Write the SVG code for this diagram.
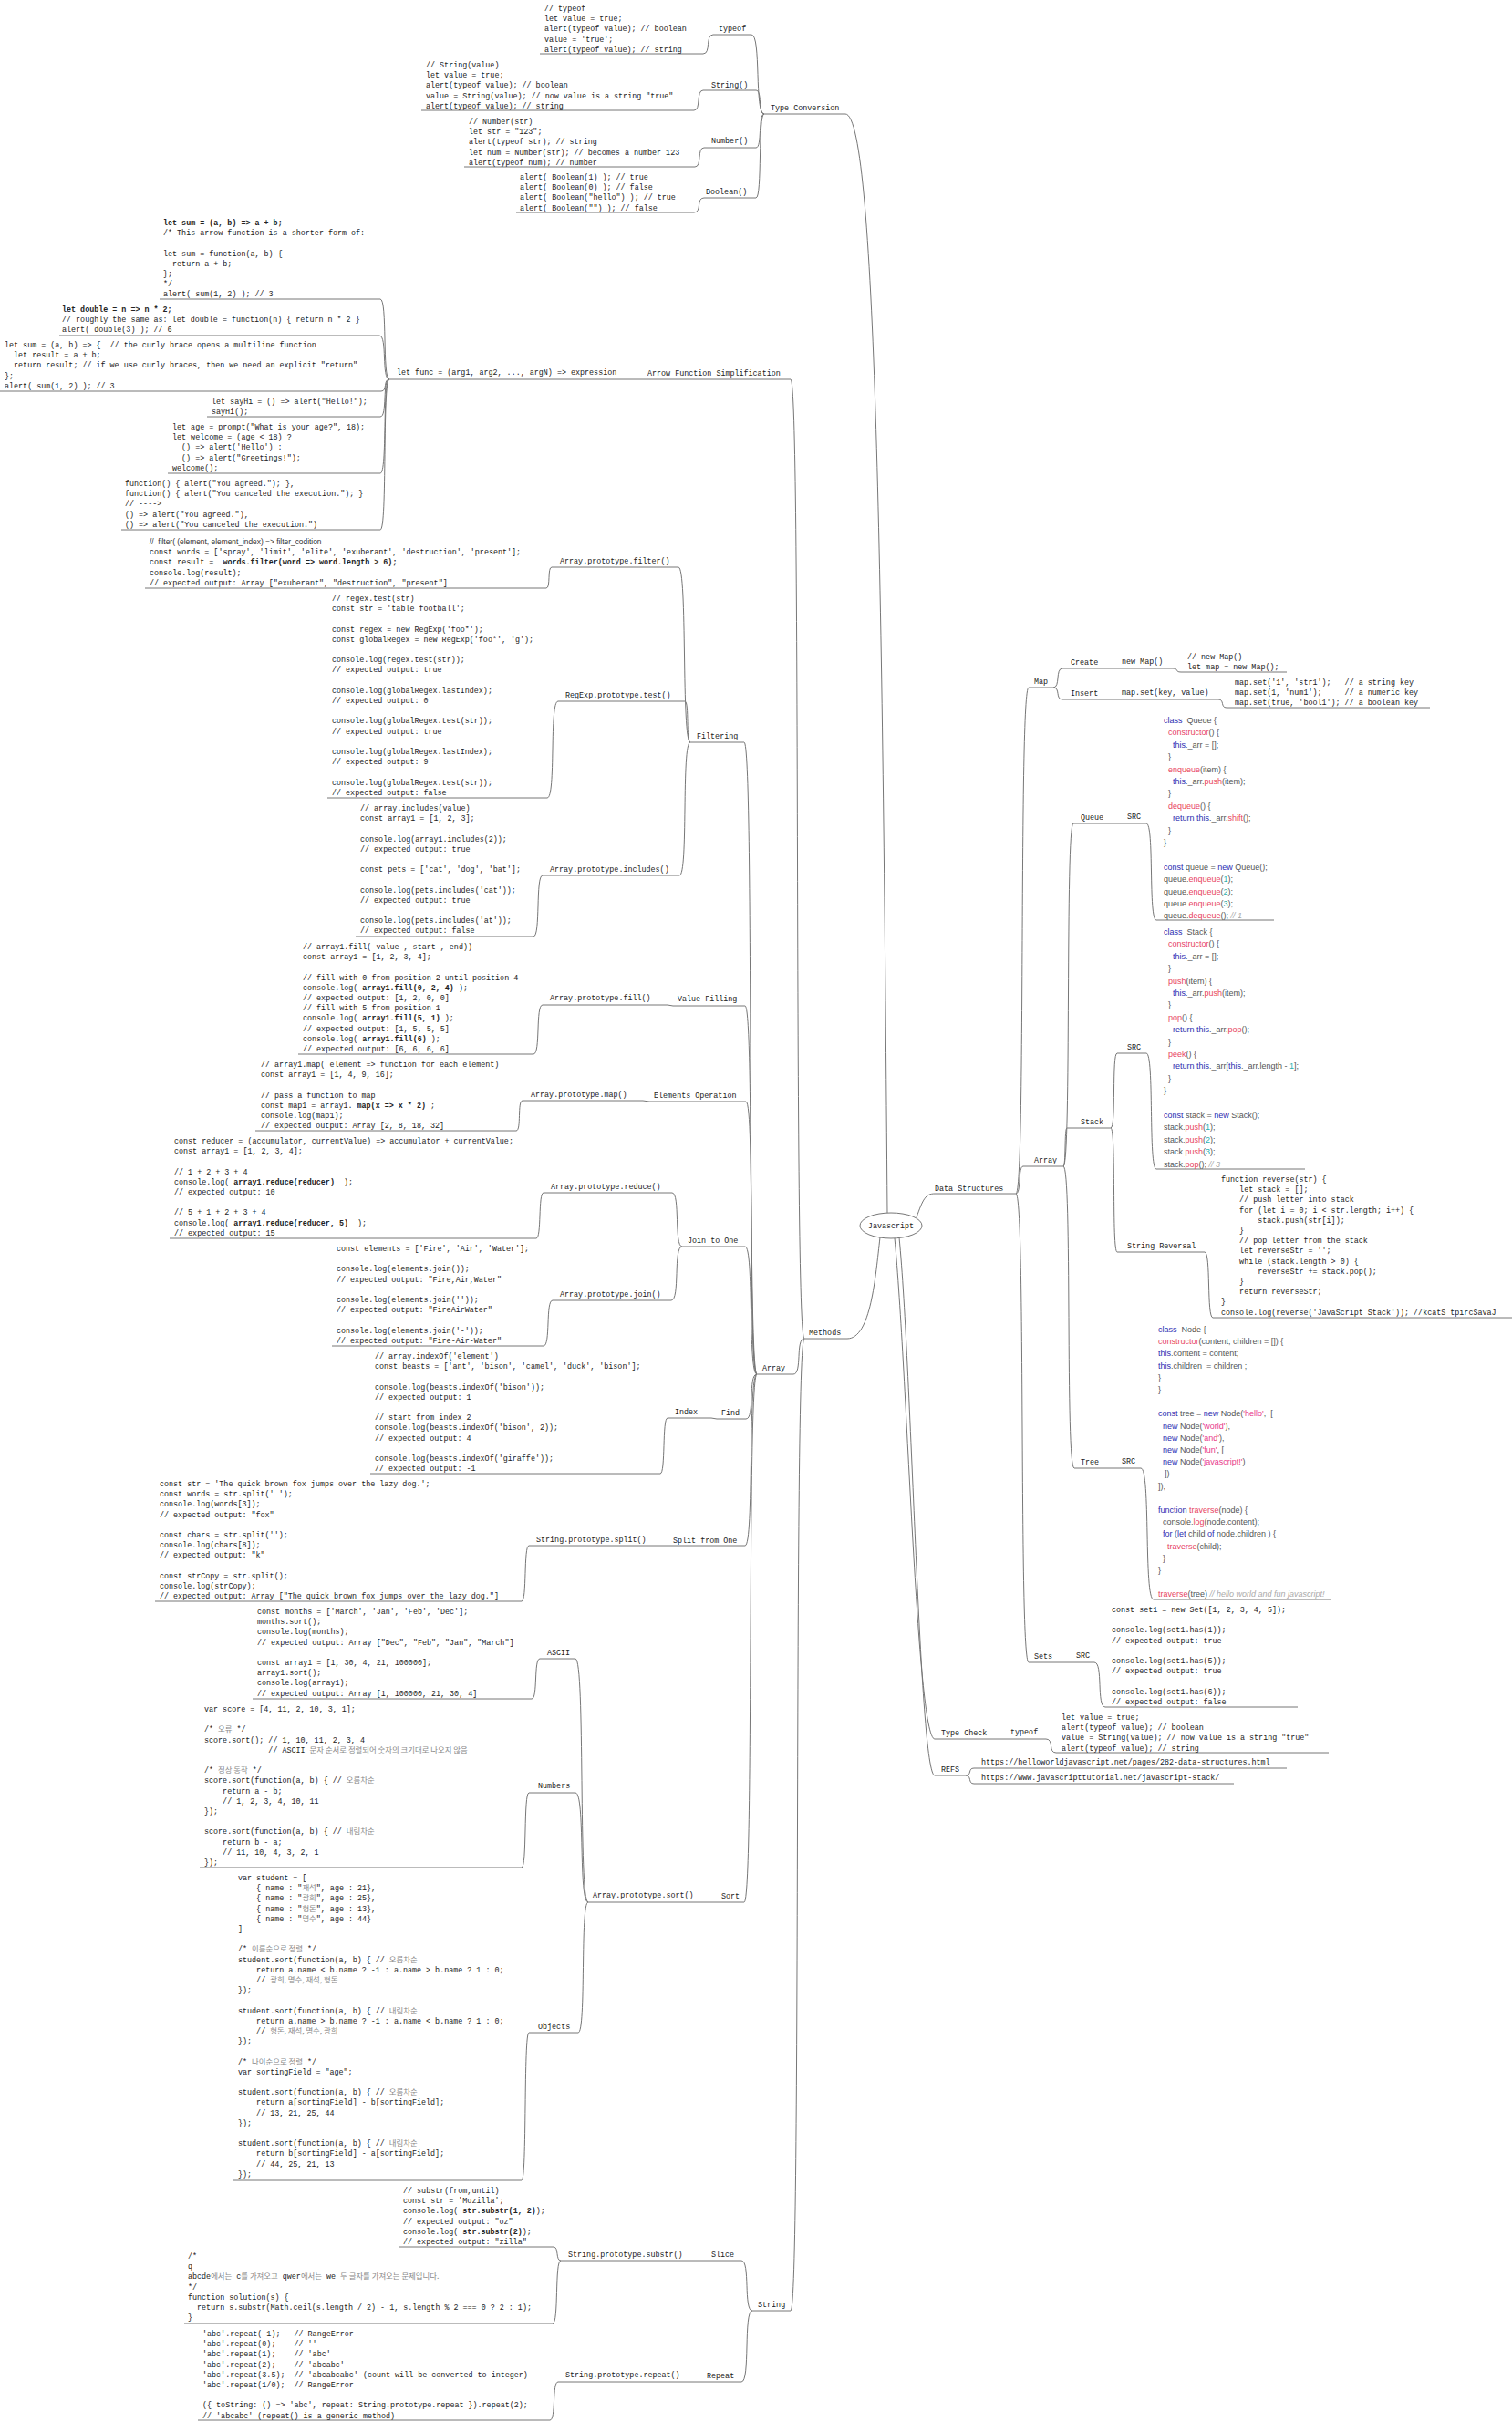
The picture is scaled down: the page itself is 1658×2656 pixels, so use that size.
<svg xmlns="http://www.w3.org/2000/svg" width="1658" height="2656" viewBox="0 0 1658 2656" xml:space="preserve">
<style>
text{white-space:pre}
.c{font-family:"Liberation Mono","DejaVu Sans Mono",monospace;font-size:8.4px;fill:#222}
.s{font-family:"Liberation Sans",Arial,sans-serif;font-size:9px;fill:#555}
.k{font-family:"Noto Sans CJK KR",sans-serif;fill:#888;font-size:8.4px}
.b{font-weight:bold}
.u,.e{fill:none;stroke:#777;stroke-width:1}
.bl{fill:#2d2db0}.rd{fill:#e8455f}.tl{fill:#2ab0b0}.pk{fill:#e83a8a}.cm{fill:#aaa;font-style:italic}
</style>
<rect width="1658" height="2656" fill="#fff"/>
<g id="connectors">
<path class="e" d="M771,59 C780,59 773,38 782,38 M761,121 C769,121 763,99 771,99 M762,183 C770,183 764,162 772,162 M761,233 C770,233 763,217 772,217 M824,38 C835,38 827,125 838,125 M829,99 C836,99 831,125 838,125 M829,162 C836,162 831,125 838,125 M829,217 C836,217 831,125 838,125 M927,125 C962,125 968,700 973,1330"/>
<path class="e" d="M417,328 C425,328 419,416 427,416 M416,368 C425,368 418,416 427,416 M418,429 C425,429 420,416 427,416 M417,457 C425,457 419,416 427,416 M417,519 C425,519 419,416 427,416 M417,581 C425,581 419,416 427,416 M867,416 C879,416 870,1468 882,1468 M929,1468 C955,1468 960,1400 965,1357 M870,1507 C880,1507 872,1468 882,1468 M867,2534 C879,2534 870,1468 882,1468"/>
<path class="e" d="M816,814 C827,814 819,1507 830,1507 M817,1103 C827,1103 820,1507 830,1507 M818,1208 C828,1208 820,1507 830,1507 M817,1367 C827,1367 820,1507 830,1507 M818,1556 C828,1556 820,1507 830,1507 M817,1695 C827,1695 820,1507 830,1507 M816,2086 C827,2086 819,1507 830,1507"/>
<path class="e" d="M744,622 C754,622 747,814 757,814 M751,769 C756,769 752,814 757,814 M745,960 C755,960 747,814 757,814 M599,645 C604,645 600,622 605,622 M600,875 C610,875 602,769 612,769 M585,1027 C593,1027 587,960 595,960 M732,1102 L738,1103 M585,1156 C593,1156 587,1102 595,1102 M705,1207 L712,1208 M566,1240 C572,1240 567,1207 573,1207 M737,1308 C746,1308 739,1367 748,1367 M736,1426 C746,1426 738,1367 748,1367 M588,1358 C594,1358 590,1308 596,1308 M596,1476 C604,1476 598,1426 606,1426 M780,1555 L786,1556 M724,1616 C730,1616 726,1555 732,1555 M726,1695 L733,1695 M572,1756 C578,1756 574,1695 580,1695"/>
<path class="e" d="M770,2086 L776,2086 M631,1819 C642,1819 634,2086 645,2086 M631,1966 C642,1966 634,2086 645,2086 M634,2229 C643,2229 636,2086 645,2086 M583,1863 C590,1863 585,1819 592,1819 M572,2048 C578,2048 574,1966 580,1966 M572,2391 C578,2391 574,2229 580,2229 M770,2479 L775,2479 M764,2612 L768,2612 M813,2479 C823,2479 815,2534 825,2534 M813,2612 C823,2612 815,2534 825,2534 M607,2464 C613,2464 609,2479 615,2479 M606,2548 C613,2548 608,2479 615,2479 M603,2654 C610,2654 605,2612 612,2612"/>
<path class="e" d="M1005,1335 C1012,1315 1015,1309 1025,1309 M981,1358 C995,1500 1005,1907 1025,1907 M986,1357 C1000,1500 1008,1947 1025,1947 M1114,1309 C1125,1309 1117,754 1128,754 M1114,1309 C1120,1309 1116,1279 1122,1279 M1114,1309 C1125,1309 1117,1823 1128,1823 M1155,754 C1163,754 1157,733 1165,733 M1155,754 C1163,754 1157,767 1165,767 M1286,733 C1293,733 1288,737 1295,737 M1336,767 C1343,767 1338,776 1345,776 M1166,1279 C1175,1279 1168,903 1177,903 M1166,1279 C1169,1279 1167,1237 1170,1237 M1166,1279 C1176,1279 1168,1610 1178,1610 M1257,903 C1266,903 1259,1009 1268,1009 M1218,1237 C1224,1237 1219,1155 1225,1155 M1218,1237 C1224,1237 1219,1373 1225,1373 M1257,1155 C1266,1155 1259,1282 1268,1282 M1321,1373 C1328,1373 1323,1445 1330,1445 M1251,1610 C1262,1610 1254,1754 1265,1754 M1200,1823 C1210,1823 1202,1872 1212,1872 M1147,1907 C1156,1907 1149,1922 1158,1922 M1059,1947 C1066,1947 1061,1939 1068,1939 M1059,1947 C1066,1947 1061,1956 1068,1956"/>
</g>
<g id="javascript"><ellipse cx="977" cy="1344" rx="34" ry="14" fill="#fff" stroke="#777"/><text class="c" x="977" y="1347" text-anchor="middle">Javascript</text></g>
<g id="type-conversion">
<path class="u" d="M592,59H771 M782,38H824 M462,121H761 M771,99H829 M509,183H762 M772,162H829 M566,233H761 M772,217H829 M838,125H927"/>
<text class="c" x="845" y="121">Type Conversion</text>
<text class="c" x="788" y="34">typeof</text><text class="c" x="780" y="96">String()</text><text class="c" x="780" y="157">Number()</text><text class="c" x="774" y="213">Boolean()</text>
<text class="c" y="12"><tspan x="597">// typeof</tspan><tspan x="597" dy="11.2">let value = true;</tspan><tspan x="597" dy="11.2">alert(typeof value); // boolean</tspan><tspan x="597" dy="11.2">value = 'true';</tspan><tspan x="597" dy="11.2">alert(typeof value); // string</tspan></text>
<text class="c" y="74"><tspan x="467">// String(value)</tspan><tspan x="467" dy="11.2">let value = true;</tspan><tspan x="467" dy="11.2">alert(typeof value); // boolean</tspan><tspan x="467" dy="11.2">value = String(value); // now value is a string "true"</tspan><tspan x="467" dy="11.2">alert(typeof value); // string</tspan></text>
<text class="c" y="136"><tspan x="514">// Number(str)</tspan><tspan x="514" dy="11.2">let str = "123";</tspan><tspan x="514" dy="11.2">alert(typeof str); // string</tspan><tspan x="514" dy="11.2">let num = Number(str); // becomes a number 123</tspan><tspan x="514" dy="11.2">alert(typeof num); // number</tspan></text>
<text class="c" y="197"><tspan x="570">alert( Boolean(1) ); // true</tspan><tspan x="570" dy="11.2">alert( Boolean(0) ); // false</tspan><tspan x="570" dy="11.2">alert( Boolean("hello") ); // true</tspan><tspan x="570" dy="11.2">alert( Boolean("") ); // false</tspan></text>
</g>
<g id="arrow-function">
<path class="u" d="M175,328H417 M65,368H416 M0,429H418 M227,457H417 M184,519H417 M133,581H417 M427,416H705 M705,416H867"/>
<text class="c" x="710" y="412">Arrow Function Simplification</text>
<text class="c" x="435" y="411">let func = (arg1, arg2, ..., argN) =&gt; expression</text>
<text class="c" y="247"><tspan x="179" class="b">let sum = (a, b) =&gt; a + b;</tspan><tspan x="179" dy="11.2">/* This arrow function is a shorter form of:</tspan><tspan x="179" dy="22.4">let sum = function(a, b) {</tspan><tspan x="179" dy="11.2">  return a + b;</tspan><tspan x="179" dy="11.2">};</tspan><tspan x="179" dy="11.2">*/</tspan><tspan x="179" dy="11.2">alert( sum(1, 2) ); // 3</tspan></text>
<text class="c" y="342"><tspan x="68" class="b">let double = n =&gt; n * 2;</tspan><tspan x="68" dy="11.2">// roughly the same as: let double = function(n) { return n * 2 }</tspan><tspan x="68" dy="11.2">alert( double(3) ); // 6</tspan></text>
<text class="c" y="381"><tspan x="5">let sum = (a, b) =&gt; {  // the curly brace opens a multiline function</tspan><tspan x="5" dy="11.2">  let result = a + b;</tspan><tspan x="5" dy="11.2">  return result; // if we use curly braces, then we need an explicit "return"</tspan><tspan x="5" dy="11.2">};</tspan><tspan x="5" dy="11.2">alert( sum(1, 2) ); // 3</tspan></text>
<text class="c" y="443"><tspan x="232">let sayHi = () =&gt; alert("Hello!");</tspan><tspan x="232" dy="11.2">sayHi();</tspan></text>
<text class="c" y="471"><tspan x="189">let age = prompt("What is your age?", 18);</tspan><tspan x="189" dy="11.2">let welcome = (age &lt; 18) ?</tspan><tspan x="189" dy="11.2">  () =&gt; alert('Hello') :</tspan><tspan x="189" dy="11.2">  () =&gt; alert("Greetings!");</tspan><tspan x="189" dy="11.2">welcome();</tspan></text>
<text class="c" y="533"><tspan x="137">function() { alert("You agreed."); },</tspan><tspan x="137" dy="11.2">function() { alert("You canceled the execution."); }</tspan><tspan x="137" dy="11.2">// ----&gt;</tspan><tspan x="137" dy="11.2">() =&gt; alert("You agreed."),</tspan><tspan x="137" dy="11.2">() =&gt; alert("You canceled the execution.")</tspan></text>
</g>
<g id="methods">
<path class="u" d="M882,1468H929 M830,1507H870"/>
<text class="c" x="887" y="1464">Methods</text><text class="c" x="836" y="1503">Array</text>
</g>
<g id="filtering">
<path class="u" d="M757,814H816 M605,622H744 M159,645H599 M612,769H751 M359,875H600 M595,960H745 M390,1027H585"/>
<text class="c" x="764" y="810">Filtering</text>
<text class="c" x="614" y="618">Array.prototype.filter()</text><text class="c" x="620" y="765">RegExp.prototype.test()</text><text class="c" x="603" y="956">Array.prototype.includes()</text>
<text class="c" y="597"><tspan x="164" class="s" style="font-size:8.4px;fill:#333">//  filter( (element, element_index) =&gt; filter_codition</tspan><tspan x="164" dy="11.2">const words = ['spray', 'limit', 'elite', 'exuberant', 'destruction', 'present'];</tspan><tspan x="164" dy="11.2">const result =  <tspan class="b">words.filter(word =&gt; word.length &gt; 6);</tspan></tspan><tspan x="164" dy="11.2">console.log(result);</tspan><tspan x="164" dy="11.2">// expected output: Array ["exuberant", "destruction", "present"]</tspan></text>
<text class="c" y="659"><tspan x="364">// regex.test(str)</tspan><tspan x="364" dy="11.2">const str = 'table football';</tspan><tspan x="364" dy="22.4">const regex = new RegExp('foo*');</tspan><tspan x="364" dy="11.2">const globalRegex = new RegExp('foo*', 'g');</tspan><tspan x="364" dy="22.4">console.log(regex.test(str));</tspan><tspan x="364" dy="11.2">// expected output: true</tspan><tspan x="364" dy="22.4">console.log(globalRegex.lastIndex);</tspan><tspan x="364" dy="11.2">// expected output: 0</tspan><tspan x="364" dy="22.4">console.log(globalRegex.test(str));</tspan><tspan x="364" dy="11.2">// expected output: true</tspan><tspan x="364" dy="22.4">console.log(globalRegex.lastIndex);</tspan><tspan x="364" dy="11.2">// expected output: 9</tspan><tspan x="364" dy="22.4">console.log(globalRegex.test(str));</tspan><tspan x="364" dy="11.2">// expected output: false</tspan></text>
<text class="c" y="889"><tspan x="395">// array.includes(value)</tspan><tspan x="395" dy="11.2">const array1 = [1, 2, 3];</tspan><tspan x="395" dy="22.4">console.log(array1.includes(2));</tspan><tspan x="395" dy="11.2">// expected output: true</tspan><tspan x="395" dy="22.4">const pets = ['cat', 'dog', 'bat'];</tspan><tspan x="395" dy="22.4">console.log(pets.includes('cat'));</tspan><tspan x="395" dy="11.2">// expected output: true</tspan><tspan x="395" dy="22.4">console.log(pets.includes('at'));</tspan><tspan x="395" dy="11.2">// expected output: false</tspan></text>
</g>
<g id="value-filling">
<path class="u" d="M738,1103H817 M595,1102H732 M327,1156H585"/>
<text class="c" x="743" y="1098">Value Filling</text><text class="c" x="603" y="1097">Array.prototype.fill()</text>
<text class="c" y="1041"><tspan x="332">// array1.fill( value , start , end))</tspan><tspan x="332" dy="11.2">const array1 = [1, 2, 3, 4];</tspan><tspan x="332" dy="22.4">// fill with 0 from position 2 until position 4</tspan><tspan x="332" dy="11.2">console.log( <tspan class="b">array1.fill(0, 2, 4)</tspan> );</tspan><tspan x="332" dy="11.2">// expected output: [1, 2, 0, 0]</tspan><tspan x="332" dy="11.2">// fill with 5 from position 1</tspan><tspan x="332" dy="11.2">console.log( <tspan class="b">array1.fill(5, 1)</tspan> );</tspan><tspan x="332" dy="11.2">// expected output: [1, 5, 5, 5]</tspan><tspan x="332" dy="11.2">console.log( <tspan class="b">array1.fill(6)</tspan> );</tspan><tspan x="332" dy="11.2">// expected output: [6, 6, 6, 6]</tspan></text>
</g>
<g id="elements-operation">
<path class="u" d="M712,1208H818 M573,1207H705 M280,1240H566"/>
<text class="c" x="717" y="1204">Elements Operation</text><text class="c" x="582" y="1203">Array.prototype.map()</text>
<text class="c" y="1170"><tspan x="286">// array1.map( element =&gt; function for each element)</tspan><tspan x="286" dy="11.2">const array1 = [1, 4, 9, 16];</tspan><tspan x="286" dy="22.4">// pass a function to map</tspan><tspan x="286" dy="11.2">const map1 = array1. <tspan class="b">map(x =&gt; x * 2)</tspan> ;</tspan><tspan x="286" dy="11.2">console.log(map1);</tspan><tspan x="286" dy="11.2">// expected output: Array [2, 8, 18, 32]</tspan></text>
</g>
<g id="join-to-one">
<path class="u" d="M748,1367H817 M596,1308H737 M186,1358H588 M606,1426H736 M364,1476H596"/>
<text class="c" x="754" y="1363">Join to One</text><text class="c" x="604" y="1304">Array.prototype.reduce()</text><text class="c" x="614" y="1422">Array.prototype.join()</text>
<text class="c" y="1254"><tspan x="191">const reducer = (accumulator, currentValue) =&gt; accumulator + currentValue;</tspan><tspan x="191" dy="11.2">const array1 = [1, 2, 3, 4];</tspan><tspan x="191" dy="22.4">// 1 + 2 + 3 + 4</tspan><tspan x="191" dy="11.2">console.log( <tspan class="b">array1.reduce(reducer)</tspan>  );</tspan><tspan x="191" dy="11.2">// expected output: 10</tspan><tspan x="191" dy="22.4">// 5 + 1 + 2 + 3 + 4</tspan><tspan x="191" dy="11.2">console.log( <tspan class="b">array1.reduce(reducer, 5)</tspan>  );</tspan><tspan x="191" dy="11.2">// expected output: 15</tspan></text>
<text class="c" y="1372"><tspan x="369">const elements = ['Fire', 'Air', 'Water'];</tspan><tspan x="369" dy="22.4">console.log(elements.join());</tspan><tspan x="369" dy="11.2">// expected output: "Fire,Air,Water"</tspan><tspan x="369" dy="22.4">console.log(elements.join(''));</tspan><tspan x="369" dy="11.2">// expected output: "FireAirWater"</tspan><tspan x="369" dy="22.4">console.log(elements.join('-'));</tspan><tspan x="369" dy="11.2">// expected output: "Fire-Air-Water"</tspan></text>
</g>
<g id="find">
<path class="u" d="M786,1556H818 M732,1555H780 M406,1616H724"/>
<text class="c" x="791" y="1552">Find</text><text class="c" x="740" y="1551">Index</text>
<text class="c" y="1490"><tspan x="411">// array.indexOf('element')</tspan><tspan x="411" dy="11.2">const beasts = ['ant', 'bison', 'camel', 'duck', 'bison'];</tspan><tspan x="411" dy="22.4">console.log(beasts.indexOf('bison'));</tspan><tspan x="411" dy="11.2">// expected output: 1</tspan><tspan x="411" dy="22.4">// start from index 2</tspan><tspan x="411" dy="11.2">console.log(beasts.indexOf('bison', 2));</tspan><tspan x="411" dy="11.2">// expected output: 4</tspan><tspan x="411" dy="22.4">console.log(beasts.indexOf('giraffe'));</tspan><tspan x="411" dy="11.2">// expected output: -1</tspan></text>
</g>
<g id="split-from-one">
<path class="u" d="M733,1695H817 M580,1695H726 M170,1756H572"/>
<text class="c" x="738" y="1692">Split from One</text><text class="c" x="588" y="1691">String.prototype.split()</text>
<text class="c" y="1630"><tspan x="175">const str = 'The quick brown fox jumps over the lazy dog.';</tspan><tspan x="175" dy="11.2">const words = str.split(' ');</tspan><tspan x="175" dy="11.2">console.log(words[3]);</tspan><tspan x="175" dy="11.2">// expected output: "fox"</tspan><tspan x="175" dy="22.4">const chars = str.split('');</tspan><tspan x="175" dy="11.2">console.log(chars[8]);</tspan><tspan x="175" dy="11.2">// expected output: "k"</tspan><tspan x="175" dy="22.4">const strCopy = str.split();</tspan><tspan x="175" dy="11.2">console.log(strCopy);</tspan><tspan x="175" dy="11.2">// expected output: Array ["The quick brown fox jumps over the lazy dog."]</tspan></text>
</g>
<g id="sort">
<path class="u" d="M776,2086H816 M645,2086H770 M592,1819H631 M277,1863H583 M580,1966H631 M219,2048H572 M580,2229H634 M256,2391H572"/>
<text class="c" x="791" y="2082">Sort</text><text class="c" x="650" y="2081">Array.prototype.sort()</text><text class="c" x="600" y="1815">ASCII</text><text class="c" x="590" y="1961">Numbers</text><text class="c" x="590" y="2225">Objects</text>
<text class="c" y="1770"><tspan x="282">const months = ['March', 'Jan', 'Feb', 'Dec'];</tspan><tspan x="282" dy="11.2">months.sort();</tspan><tspan x="282" dy="11.2">console.log(months);</tspan><tspan x="282" dy="11.2">// expected output: Array ["Dec", "Feb", "Jan", "March"]</tspan><tspan x="282" dy="22.4">const array1 = [1, 30, 4, 21, 100000];</tspan><tspan x="282" dy="11.2">array1.sort();</tspan><tspan x="282" dy="11.2">console.log(array1);</tspan><tspan x="282" dy="11.2">// expected output: Array [1, 100000, 21, 30, 4]</tspan></text>
<text class="c" y="1877"><tspan x="224">var score = [4, 11, 2, 10, 3, 1];</tspan><tspan x="224" dy="22.4">/* <tspan class="k">오류</tspan> */</tspan><tspan x="224" dy="11.2">score.sort(); // 1, 10, 11, 2, 3, 4</tspan><tspan x="224" dy="11.2">              // ASCII <tspan class="k">문자 순서로 정렬되어 숫자의 크기대로 나오지 않음</tspan></tspan><tspan x="224" dy="22.4">/* <tspan class="k">정상 동작</tspan> */</tspan><tspan x="224" dy="11.2">score.sort(function(a, b) { // <tspan class="k">오름차순</tspan></tspan><tspan x="224" dy="11.2">    return a - b;</tspan><tspan x="224" dy="11.2">    // 1, 2, 3, 4, 10, 11</tspan><tspan x="224" dy="11.2">});</tspan><tspan x="224" dy="22.4">score.sort(function(a, b) { // <tspan class="k">내림차순</tspan></tspan><tspan x="224" dy="11.2">    return b - a;</tspan><tspan x="224" dy="11.2">    // 11, 10, 4, 3, 2, 1</tspan><tspan x="224" dy="11.2">});</tspan></text>
<text class="c" y="2062"><tspan x="261">var student = [</tspan><tspan x="261" dy="11.2">    { name : "<tspan class="k">재석</tspan>", age : 21},</tspan><tspan x="261" dy="11.2">    { name : "<tspan class="k">광희</tspan>", age : 25},</tspan><tspan x="261" dy="11.2">    { name : "<tspan class="k">형돈</tspan>", age : 13},</tspan><tspan x="261" dy="11.2">    { name : "<tspan class="k">명수</tspan>", age : 44}</tspan><tspan x="261" dy="11.2">]</tspan><tspan x="261" dy="22.4">/* <tspan class="k">이름순으로 정렬</tspan> */</tspan><tspan x="261" dy="11.2">student.sort(function(a, b) { // <tspan class="k">오름차순</tspan></tspan><tspan x="261" dy="11.2">    return a.name &lt; b.name ? -1 : a.name &gt; b.name ? 1 : 0;</tspan><tspan x="261" dy="11.2">    // <tspan class="k">광희, 명수, 재석, 형돈</tspan></tspan><tspan x="261" dy="11.2">});</tspan><tspan x="261" dy="22.4">student.sort(function(a, b) { // <tspan class="k">내림차순</tspan></tspan><tspan x="261" dy="11.2">    return a.name &gt; b.name ? -1 : a.name &lt; b.name ? 1 : 0;</tspan><tspan x="261" dy="11.2">    // <tspan class="k">형돈, 재석, 명수, 광희</tspan></tspan><tspan x="261" dy="11.2">});</tspan><tspan x="261" dy="22.4">/* <tspan class="k">나이순으로 정렬</tspan> */</tspan><tspan x="261" dy="11.2">var sortingField = "age";</tspan><tspan x="261" dy="22.4">student.sort(function(a, b) { // <tspan class="k">오름차순</tspan></tspan><tspan x="261" dy="11.2">    return a[sortingField] - b[sortingField];</tspan><tspan x="261" dy="11.2">    // 13, 21, 25, 44</tspan><tspan x="261" dy="11.2">});</tspan><tspan x="261" dy="22.4">student.sort(function(a, b) { // <tspan class="k">내림차순</tspan></tspan><tspan x="261" dy="11.2">    return b[sortingField] - a[sortingField];</tspan><tspan x="261" dy="11.2">    // 44, 25, 21, 13</tspan><tspan x="261" dy="11.2">});</tspan></text>
</g>
<g id="string">
<path class="u" d="M825,2534H867 M775,2479H813 M615,2479H770 M437,2464H607 M202,2548H606 M768,2612H813 M612,2612H764 M217,2654H603"/>
<text class="c" x="831" y="2530">String</text><text class="c" x="780" y="2475">Slice</text><text class="c" x="623" y="2475">String.prototype.substr()</text><text class="c" x="775" y="2608">Repeat</text><text class="c" x="620" y="2607">String.prototype.repeat()</text>
<text class="c" y="2405"><tspan x="442">// substr(from,until)</tspan><tspan x="442" dy="11.2">const str = 'Mozilla';</tspan><tspan x="442" dy="11.2">console.log( <tspan class="b">str.substr(1, 2)</tspan>);</tspan><tspan x="442" dy="11.2">// expected output: "oz"</tspan><tspan x="442" dy="11.2">console.log( <tspan class="b">str.substr(2)</tspan>);</tspan><tspan x="442" dy="11.2">// expected output: "zilla"</tspan></text>
<text class="c" y="2477"><tspan x="206">/*</tspan><tspan x="206" dy="11.2">q</tspan><tspan x="206" dy="11.2">abcde<tspan class="k">에서는</tspan> c<tspan class="k">를 가져오고</tspan> qwer<tspan class="k">에서는</tspan> we <tspan class="k">두 글자를 가져오는 문제입니다.</tspan></tspan><tspan x="206" dy="11.2">*/</tspan><tspan x="206" dy="11.2">function solution(s) {</tspan><tspan x="206" dy="11.2">  return s.substr(Math.ceil(s.length / 2) - 1, s.length % 2 === 0 ? 2 : 1);</tspan><tspan x="206" dy="11.2">}</tspan></text>
<text class="c" y="2562"><tspan x="222">'abc'.repeat(-1);   // RangeError</tspan><tspan x="222" dy="11.2">'abc'.repeat(0);    // ''</tspan><tspan x="222" dy="11.2">'abc'.repeat(1);    // 'abc'</tspan><tspan x="222" dy="11.2">'abc'.repeat(2);    // 'abcabc'</tspan><tspan x="222" dy="11.2">'abc'.repeat(3.5);  // 'abcabcabc' (count will be converted to integer)</tspan><tspan x="222" dy="11.2">'abc'.repeat(1/0);  // RangeError</tspan><tspan x="222" dy="22.4">({ toString: () =&gt; 'abc', repeat: String.prototype.repeat }).repeat(2);</tspan><tspan x="222" dy="11.2">// 'abcabc' (repeat() is a generic method)</tspan></text>
</g>
<g id="data-structures">
<path class="u" d="M1025,1309H1114 M1128,754H1155 M1165,733H1286 M1295,737H1411 M1165,767H1336 M1345,776H1568 M1122,1279H1166 M1177,903H1257 M1268,1009H1397 M1170,1237H1218 M1225,1155H1257 M1268,1282H1431 M1225,1373H1321 M1330,1445H1658 M1178,1610H1251 M1265,1754H1459 M1128,1823H1200 M1212,1872H1423"/>
<text class="c" x="1025" y="1306">Data Structures</text><text class="c" x="1134" y="750">Map</text><text class="c" x="1174" y="729">Create</text><text class="c" x="1230" y="728">new Map()</text><text class="c" x="1174" y="763">Insert</text><text class="c" x="1230" y="762">map.set(key, value)</text>
<text class="c" y="723"><tspan x="1302">// new Map()</tspan><tspan x="1302" dy="11.2">let map = new Map();</tspan></text>
<text class="c" y="751"><tspan x="1354">map.set('1', 'str1');   // a string key</tspan><tspan x="1354" dy="11.2">map.set(1, 'num1');     // a numeric key</tspan><tspan x="1354" dy="11.2">map.set(true, 'bool1'); // a boolean key</tspan></text>
<text class="c" x="1134" y="1275">Array</text><text class="c" x="1185" y="899">Queue</text><text class="c" x="1236" y="898">SRC</text><text class="c" x="1185" y="1233">Stack</text><text class="c" x="1236" y="1151">SRC</text><text class="c" x="1236" y="1369">String Reversal</text><text class="c" x="1185" y="1606">Tree</text><text class="c" x="1230" y="1605">SRC</text><text class="c" x="1134" y="1819">Sets</text><text class="c" x="1180" y="1818">SRC</text>
<text class="s" y="793"><tspan x="1276"><tspan class="bl">class</tspan>  Queue {</tspan><tspan x="1281" dy="13.4"><tspan class="rd">constructor</tspan>() {</tspan><tspan x="1286" dy="13.4"><tspan class="bl">this</tspan>._arr = [];</tspan><tspan x="1281" dy="13.4">}</tspan><tspan x="1281" dy="13.4"><tspan class="rd">enqueue</tspan>(item) {</tspan><tspan x="1286" dy="13.4"><tspan class="bl">this</tspan>._arr.<tspan class="rd">push</tspan>(item);</tspan><tspan x="1281" dy="13.4">}</tspan><tspan x="1281" dy="13.4"><tspan class="rd">dequeue</tspan>() {</tspan><tspan x="1286" dy="13.4"><tspan class="bl">return this</tspan>._arr.<tspan class="rd">shift</tspan>();</tspan><tspan x="1281" dy="13.4">}</tspan><tspan x="1276" dy="13.4">}</tspan><tspan x="1276" dy="26.8"><tspan class="bl">const</tspan> queue = <tspan class="bl">new</tspan> Queue();</tspan><tspan x="1276" dy="13.4">queue.<tspan class="rd">enqueue</tspan>(<tspan class="tl">1</tspan>);</tspan><tspan x="1276" dy="13.4">queue.<tspan class="rd">enqueue</tspan>(<tspan class="tl">2</tspan>);</tspan><tspan x="1276" dy="13.4">queue.<tspan class="rd">enqueue</tspan>(<tspan class="tl">3</tspan>);</tspan><tspan x="1276" dy="13.4">queue.<tspan class="rd">dequeue</tspan>(); <tspan class="cm">// 1</tspan></tspan></text>
<text class="s" y="1025"><tspan x="1276"><tspan class="bl">class</tspan>  Stack {</tspan><tspan x="1281" dy="13.4"><tspan class="rd">constructor</tspan>() {</tspan><tspan x="1286" dy="13.4"><tspan class="bl">this</tspan>._arr = [];</tspan><tspan x="1281" dy="13.4">}</tspan><tspan x="1281" dy="13.4"><tspan class="rd">push</tspan>(item) {</tspan><tspan x="1286" dy="13.4"><tspan class="bl">this</tspan>._arr.<tspan class="rd">push</tspan>(item);</tspan><tspan x="1281" dy="13.4">}</tspan><tspan x="1281" dy="13.4"><tspan class="rd">pop</tspan>() {</tspan><tspan x="1286" dy="13.4"><tspan class="bl">return this</tspan>._arr.<tspan class="rd">pop</tspan>();</tspan><tspan x="1281" dy="13.4">}</tspan><tspan x="1281" dy="13.4"><tspan class="rd">peek</tspan>() {</tspan><tspan x="1286" dy="13.4"><tspan class="bl">return this</tspan>._arr[<tspan class="bl">this</tspan>._arr.length - <tspan class="tl">1</tspan>];</tspan><tspan x="1281" dy="13.4">}</tspan><tspan x="1276" dy="13.4">}</tspan><tspan x="1276" dy="26.8"><tspan class="bl">const</tspan> stack = <tspan class="bl">new</tspan> Stack();</tspan><tspan x="1276" dy="13.4">stack.<tspan class="rd">push</tspan>(<tspan class="tl">1</tspan>);</tspan><tspan x="1276" dy="13.4">stack.<tspan class="rd">push</tspan>(<tspan class="tl">2</tspan>);</tspan><tspan x="1276" dy="13.4">stack.<tspan class="rd">push</tspan>(<tspan class="tl">3</tspan>);</tspan><tspan x="1276" dy="13.4">stack.<tspan class="rd">pop</tspan>(); <tspan class="cm">// 3</tspan></tspan></text>
<text class="c" y="1296"><tspan x="1339">function reverse(str) {</tspan><tspan x="1339" dy="11.2">    let stack = [];</tspan><tspan x="1339" dy="11.2">    // push letter into stack</tspan><tspan x="1339" dy="11.2">    for (let i = 0; i &lt; str.length; i++) {</tspan><tspan x="1339" dy="11.2">        stack.push(str[i]);</tspan><tspan x="1339" dy="11.2">    }</tspan><tspan x="1339" dy="11.2">    // pop letter from the stack</tspan><tspan x="1339" dy="11.2">    let reverseStr = '';</tspan><tspan x="1339" dy="11.2">    while (stack.length &gt; 0) {</tspan><tspan x="1339" dy="11.2">        reverseStr += stack.pop();</tspan><tspan x="1339" dy="11.2">    }</tspan><tspan x="1339" dy="11.2">    return reverseStr;</tspan><tspan x="1339" dy="11.2">}</tspan><tspan x="1339" dy="11.2">console.log(reverse('JavaScript Stack')); //kcatS tpircSavaJ</tspan></text>
<text class="s" y="1461"><tspan x="1270"><tspan class="bl">class</tspan>  Node {</tspan><tspan x="1270" dy="13.2"><tspan class="rd">constructor</tspan>(content, children = []) {</tspan><tspan x="1270" dy="13.2"><tspan class="bl">this</tspan>.content = content;</tspan><tspan x="1270" dy="13.2"><tspan class="bl">this</tspan>.children  = children ;</tspan><tspan x="1270" dy="13.2">}</tspan><tspan x="1270" dy="13.2">}</tspan><tspan x="1270" dy="26.4"><tspan class="bl">const</tspan> tree = <tspan class="bl">new</tspan> Node(<tspan class="pk">'hello'</tspan>,  [</tspan><tspan x="1275" dy="13.2"><tspan class="bl">new</tspan> Node(<tspan class="pk">'world'</tspan>),</tspan><tspan x="1275" dy="13.2"><tspan class="bl">new</tspan> Node(<tspan class="pk">'and'</tspan>),</tspan><tspan x="1275" dy="13.2"><tspan class="bl">new</tspan> Node(<tspan class="pk">'fun'</tspan>, [</tspan><tspan x="1275" dy="13.2"><tspan class="bl">new</tspan> Node(<tspan class="pk">'javascript!'</tspan>)</tspan><tspan x="1277" dy="13.2">])</tspan><tspan x="1270" dy="13.2">]);</tspan><tspan x="1270" dy="26.4"><tspan class="bl">function</tspan> <tspan class="rd">traverse</tspan>(node) {</tspan><tspan x="1275" dy="13.2">console.<tspan class="rd">log</tspan>(node.content);</tspan><tspan x="1275" dy="13.2"><tspan class="bl">for</tspan> (<tspan class="bl">let</tspan> child <tspan class="bl">of</tspan> node.children ) {</tspan><tspan x="1280" dy="13.2"><tspan class="rd">traverse</tspan>(child);</tspan><tspan x="1275" dy="13.2">}</tspan><tspan x="1270" dy="13.2">}</tspan><tspan x="1270" dy="26.4"><tspan class="rd">traverse</tspan>(tree) <tspan class="cm">// hello world and fun javascript!</tspan></tspan></text>
<text class="c" y="1768"><tspan x="1219">const set1 = new Set([1, 2, 3, 4, 5]);</tspan><tspan x="1219" dy="22.4">console.log(set1.has(1));</tspan><tspan x="1219" dy="11.2">// expected output: true</tspan><tspan x="1219" dy="22.4">console.log(set1.has(5));</tspan><tspan x="1219" dy="11.2">// expected output: true</tspan><tspan x="1219" dy="22.4">console.log(set1.has(6));</tspan><tspan x="1219" dy="11.2">// expected output: false</tspan></text>
</g>
<g id="type-check">
<path class="u" d="M1025,1907H1147 M1158,1922H1457"/>
<text class="c" x="1032" y="1903">Type Check</text><text class="c" x="1108" y="1902">typeof</text>
<text class="c" y="1886"><tspan x="1164">let value = true;</tspan><tspan x="1164" dy="11.2">alert(typeof value); // boolean</tspan><tspan x="1164" dy="11.2">value = String(value); // now value is a string "true"</tspan><tspan x="1164" dy="11.2">alert(typeof value); // string</tspan></text>
</g>
<g id="refs">
<path class="u" d="M1025,1947H1059 M1068,1939H1411 M1068,1956H1353"/>
<text class="c" x="1032" y="1943">REFS</text>
<text class="c" x="1076" y="1935">https://helloworldjavascript.net/pages/282-data-structures.html</text>
<text class="c" x="1076" y="1952">https://www.javascripttutorial.net/javascript-stack/</text>
</g>
</svg>
